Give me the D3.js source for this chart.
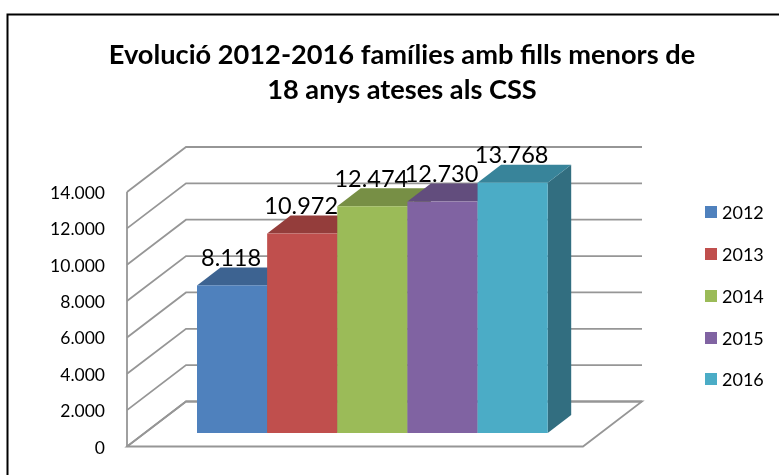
<!DOCTYPE html>
<html><head><meta charset="utf-8">
<script src="https://cdnjs.cloudflare.com/ajax/libs/d3/7.8.5/d3.min.js"></script>
<style>html,body{margin:0;padding:0;background:#fff}svg{display:block}text{font-family:Lato,Carlito,sans-serif;fill:#000}</style>
</head><body><svg id="c" width="779" height="475"></svg>
<script>
const years = ["2012","2013","2014","2015","2016"];
const values = [8118,10972,12474,12730,13768];
const labels = ["8.118","10.972","12.474","12.730","13.768"];
const colors = ["#4f81bd","#c0504d","#9bbb59","#8064a2","#4bacc6"];
const topColors = ["#3d6491","#943e3b","#778f44","#624d7d","#39849a"];
const sideColors = ["#335479","#7b3331","#637739","#523f68","#316e80"];
const ticks = [0,2000,4000,6000,8000,10000,12000,14000];
const titleLines = ["Evolució 2012-2016 famílies amb fills menors de","18 anys ateses als CSS"];

const svg = d3.select("#c");
svg.append("defs").append("filter").attr("id","soft").append("feGaussianBlur").attr("stdDeviation",0.35);
const root = svg.append("g").attr("filter","url(#soft)");
root.append("rect").attr("width",779).attr("height",475).attr("fill","#fff");
root.append("path").attr("d","M7.5 475V14.5H779").attr("fill","none").attr("stroke","#000").attr("stroke-width",2);

root.selectAll("text.t").data(titleLines).join("text").attr("class","t")
  .attr("x",402).attr("y",(d,i)=>[64,99][i]).attr("text-anchor","middle")
  .attr("font-size",27.2).attr("font-weight",700).text(d=>d);

// plot geometry
const y0=446.5, yTop=192, xL=127, xR=583, wallDx=59, wallDy=-45;
const y = d3.scaleLinear().domain([0,14000]).range([y0,yTop]);
const grid="#969696";
const g=root.append("g");
g.append("path").attr("d",`M${xL} ${y0}L${xR} ${y0}L${xR+wallDx} ${y0+wallDy}L${xL+wallDx} ${y0+wallDy}Z`)
 .attr("fill","#fff").attr("stroke",grid).attr("stroke-width",1.8);
g.selectAll("path.g").data(ticks).join("path").attr("class","g")
 .attr("d",d=>`M${xL} ${y(d)}L${xL+wallDx} ${y(d)+wallDy}L${xR+wallDx} ${y(d)+wallDy}`)
 .attr("fill","none").attr("stroke",grid).attr("stroke-width",1.8);
g.append("line").attr("x1",xL).attr("x2",xL).attr("y1",yTop).attr("y2",y0).attr("stroke",grid).attr("stroke-width",1.8);

g.selectAll("text.tick").data(ticks).join("text").attr("class","tick")
 .attr("x",105).attr("y",d=>y(d)+7).attr("text-anchor","end").attr("font-size",17.5)
 .text(d=>d===0?"0":d3.format(",")(d).replace(",","."));

// bars
const x=d3.scaleBand().domain(years).range([197,547.7]);
const barBase=433, bx=23.5, by=-18;
const h=d3.scaleLinear().domain([0,14000]).range([0,254.5]);
const bars=root.append("g");
years.forEach((yr,i)=>{
  const x0=x(yr), w=x.bandwidth(), t=barBase-h(values[i]);
  bars.append("path").attr("d",`M${x0+w} ${barBase}L${x0+w+bx} ${barBase+by}L${x0+w+bx} ${t+by}L${x0+w} ${t}Z`).attr("fill",sideColors[i]);
  bars.append("path").attr("d",`M${x0} ${t}L${x0+bx} ${t+by}L${x0+w+bx} ${t+by}L${x0+w} ${t}Z`).attr("fill",topColors[i]);
});
years.forEach((yr,i)=>{
  bars.append("rect").attr("x",x(yr)).attr("y",barBase-h(values[i])).attr("width",x.bandwidth()).attr("height",h(values[i])).attr("fill",colors[i]);
});
root.selectAll("text.v").data(labels).join("text").attr("class","v")
 .attr("x",(d,i)=>x(years[i])+x.bandwidth()/2-1).attr("y",(d,i)=>barBase-h(values[i])-19.5)
 .attr("text-anchor","middle").attr("font-size",23.5).text(d=>d);

// legend
const ly=[206,248,290,332,373];
const lg=root.selectAll("g.l").data(years).join("g").attr("class","l").attr("transform",(d,i)=>`translate(705,${ly[i]})`);
lg.append("rect").attr("width",12).attr("height",12).attr("fill",(d,i)=>colors[i]);
lg.append("text").attr("x",17).attr("y",12.5).attr("font-size",18).text(d=>d);
</script></body></html>
